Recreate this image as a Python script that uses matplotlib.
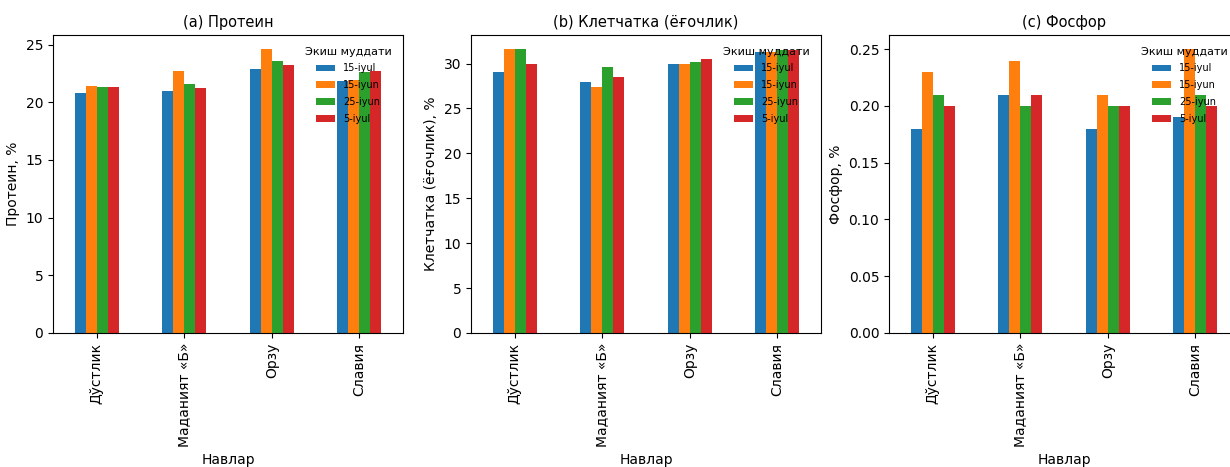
import numpy as np
import matplotlib
matplotlib.use("Agg")
import matplotlib.pyplot as plt

# навлар ва экиш муддатлари
varieties = ["Дўстлик", "Маданият «Б»", "Орзу", "Славия"]
dates = ["15-iyul", "15-iyun", "25-iyun", "5-iyul"]

# values per sowing date, one entry per variety
protein = {
    "15-iyul": [20.8, 21.0, 22.9, 21.8],
    "15-iyun": [21.4, 22.7, 24.6, 21.9],
    "25-iyun": [21.3, 21.6, 23.6, 22.6],
    "5-iyul": [21.3, 21.2, 23.2, 22.7],
}
fiber = {
    "15-iyul": [29.1, 28.0, 30.0, 31.3],
    "15-iyun": [31.6, 27.4, 30.0, 31.3],
    "25-iyun": [31.6, 29.6, 30.2, 31.5],
    "5-iyul": [30.0, 28.5, 30.5, 31.5],
}
phosphor = {
    "15-iyul": [0.18, 0.21, 0.18, 0.19],
    "15-iyun": [0.23, 0.24, 0.21, 0.25],
    "25-iyun": [0.21, 0.20, 0.20, 0.21],
    "5-iyul": [0.20, 0.21, 0.20, 0.20],
}

panels = [
    ("(a) Протеин", "Протеин, %", protein),
    ("(b) Клетчатка (ёғочлик)", "Клетчатка (ёғочлик), %", fiber),
    ("(c) Фосфор", "Фосфор, %", phosphor),
]
colors = ["#1f77b4", "#ff7f0e", "#2ca02c", "#d62728"]

fig = plt.figure(figsize=(12.3, 4.67), dpi=100)
lefts = [53, 471, 889]
x = np.arange(len(varieties))
w = 0.125

for left, (title, ylabel, data) in zip(lefts, panels):
    ax = fig.add_axes([left / 1230, 134 / 467, 350 / 1230, 298 / 467])
    for i, d in enumerate(dates):
        ax.bar(x + (i - 1.5) * w, data[d], width=w, color=colors[i], label=d)
    ax.set_xlim(-0.5, len(varieties) - 0.5)
    ax.set_xticks(x)
    ax.set_xticklabels(varieties, rotation=90)
    ax.set_title(title, fontsize=10.5)
    ax.set_ylabel(ylabel)
    ax.set_xlabel("Навлар")
    leg = ax.legend(title="Экиш муддати", loc="upper right", frameon=False,
                    fontsize=7, title_fontsize=8, labelspacing=0.7,
                    borderaxespad=0.8)

fig.savefig("out.png", dpi=100)
